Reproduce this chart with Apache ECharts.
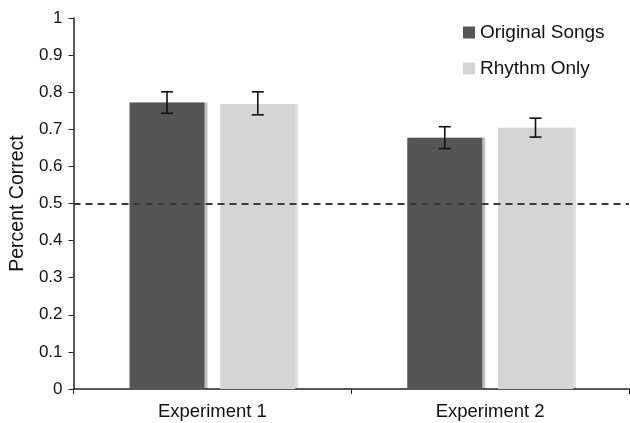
<!DOCTYPE html>
<html>
<head>
<meta charset="utf-8">
<script src="https://cdn.jsdelivr.net/npm/echarts@6/dist/echarts.min.js"></script>
<style>html,body{margin:0;padding:0;background:#fff;}#c{width:630px;height:423px;}</style>
</head>
<body>
<div id="c"></div>
<script>
const categories = ['Experiment 1', 'Experiment 2'];
const seriesNames = ['Original Songs', 'Rhythm Only'];
const originalSongs = [0.772, 0.677];
const originalSongsLow = [0.743, 0.648];
const originalSongsHigh = [0.801, 0.707];
const rhythmOnly = [0.768, 0.704];
const rhythmOnlyLow = [0.739, 0.679];
const rhythmOnlyHigh = [0.801, 0.730];
const chanceLevel = 0.5;
const yTicks = [0, 0.1, 0.2, 0.3, 0.4, 0.5, 0.6, 0.7, 0.8, 0.9, 1];

const BAR_W = 75;
const GAP_RATIO = 0.21;
const OFFSET = (BAR_W + BAR_W * GAP_RATIO) / 2;
const FONT = 'Liberation Sans, Arial, Helvetica, sans-serif';

function errSeries(low, high, dir) {
  return {
    type: 'custom',
    silent: true,
    z: 5,
    data: categories.map((c, i) => [i, low[i], high[i]]),
    renderItem: function (params, api) {
      const lo = api.coord([api.value(0), api.value(1)]);
      const hi = api.coord([api.value(0), api.value(2)]);
      const x = lo[0] + dir * OFFSET;
      const cap = 6;
      const st = { stroke: '#111', lineWidth: 1.6 };
      return {
        type: 'group',
        children: [
          { type: 'line', shape: { x1: x, y1: lo[1], x2: x, y2: hi[1] }, style: st },
          { type: 'line', shape: { x1: x - cap, y1: lo[1], x2: x + cap, y2: lo[1] }, style: st },
          { type: 'line', shape: { x1: x - cap, y1: hi[1], x2: x + cap, y2: hi[1] }, style: st }
        ]
      };
    }
  };
}

const chart = echarts.init(document.getElementById('c'));
chart.setOption({
  animation: false,
  backgroundColor: '#fff',
  grid: { left: 73, right: 1, top: 18, bottom: 34, containLabel: false },
  legend: {
    data: seriesNames,
    orient: 'vertical',
    left: 458,
    top: 18,
    itemWidth: 12,
    itemHeight: 12,
    itemGap: 17,
    icon: 'rect',
    textStyle: { fontSize: 19, lineHeight: 19, color: '#111', fontFamily: FONT }
  },
  xAxis: {
    type: 'category',
    data: categories,
    boundaryGap: true,
    axisLine: { lineStyle: { color: '#222', width: 1.5 } },
    axisTick: { show: true, length: 5, alignWithLabel: false, lineStyle: { color: '#222' } },
    axisLabel: { fontSize: 18.5, color: '#111', fontFamily: FONT, margin: 13 }
  },
  yAxis: {
    type: 'value',
    min: 0,
    max: 1,
    interval: 0.1,
    name: 'Percent Correct',
    nameLocation: 'middle',
    nameGap: 41,
    nameTextStyle: { fontSize: 19.5, color: '#111', fontFamily: FONT },
    splitLine: { show: false },
    axisLine: { show: true, lineStyle: { color: '#222', width: 1.5 } },
    axisTick: { show: true, length: 5, lineStyle: { color: '#222' } },
    axisLabel: {
      fontSize: 17, color: '#111', fontFamily: FONT, margin: 11,
      formatter: function (v) { const t = yTicks.find(k => Math.abs(k - v) < 1e-6); return String(t !== undefined ? t : v); }
    }
  },
  series: [
    {
      name: seriesNames[0],
      type: 'bar',
      data: originalSongs,
      barWidth: BAR_W,
      barGap: (GAP_RATIO * 100) + '%',
      itemStyle: { color: '#555555', shadowColor: 'rgba(0,0,0,0.25)', shadowOffsetX: 3, shadowOffsetY: 0, shadowBlur: 0 },
      markLine: {
        silent: true,
        symbol: 'none',
        label: { show: false },
        lineStyle: { type: [7, 5], color: '#3a3a3a', width: 2 },
        data: [{ yAxis: chanceLevel }]
      },
      z: 2
    },
    {
      name: seriesNames[1],
      type: 'bar',
      data: rhythmOnly,
      barWidth: BAR_W,
      itemStyle: { color: '#d5d5d5', shadowColor: 'rgba(0,0,0,0.12)', shadowOffsetX: 3, shadowOffsetY: 0, shadowBlur: 0 },
      z: 2
    },
    errSeries(originalSongsLow, originalSongsHigh, -1),
    errSeries(rhythmOnlyLow, rhythmOnlyHigh, 1)
  ]
});
</script>
</body>
</html>
